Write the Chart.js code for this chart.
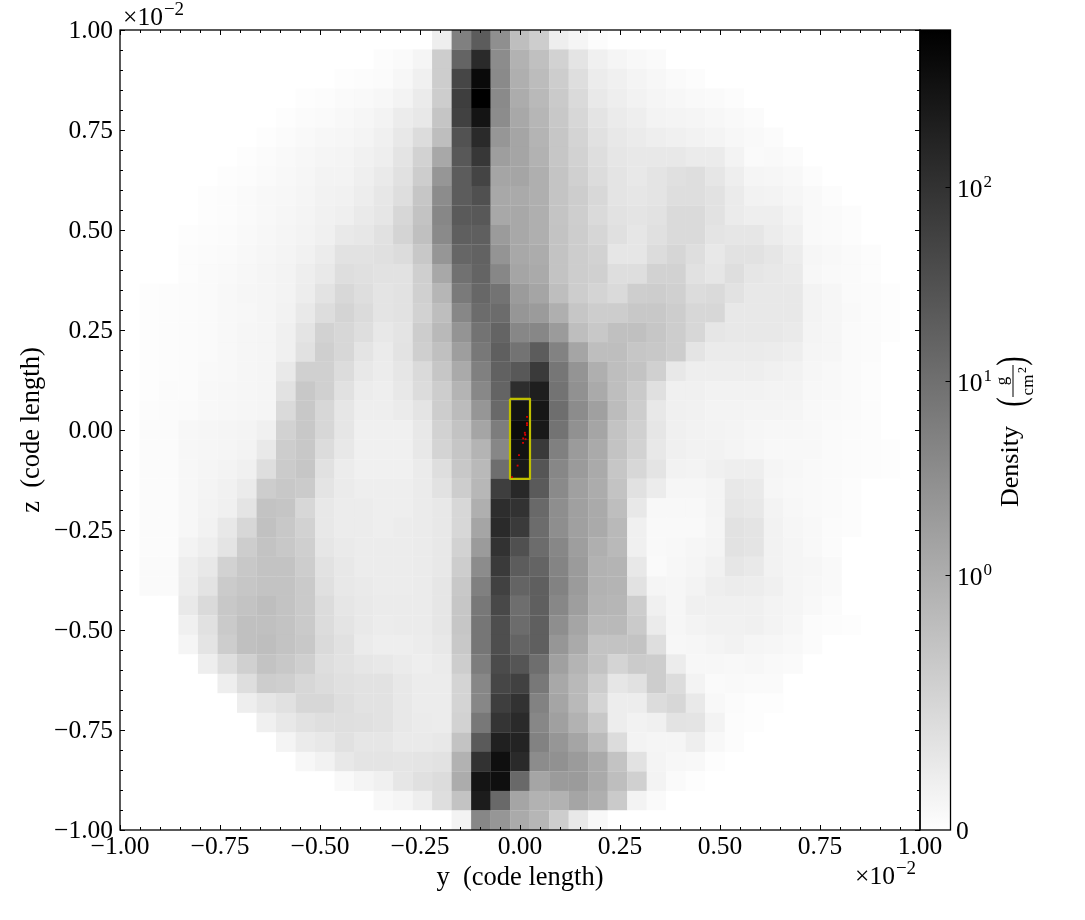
<!DOCTYPE html>
<html>
<head>
<meta charset="utf-8">
<title>Density projection</title>
<script src="https://cdn.jsdelivr.net/npm/chart.js@4"></script>
<style>
    html, body { margin: 0; padding: 0; background: #fff; }
    canvas { display: block; }
</style>
</head>
<body>
<canvas id="chart" width="1085" height="920"></canvas>
<script>
// Axis ticks, in units of 10^-2 code length
const majorTicks = [-1, -0.75, -0.5, -0.25, 0, 0.25, 0.5, 0.75, 1];
const minorTicks = [-0.95, -0.9, -0.85, -0.8, -0.7, -0.65, -0.6, -0.55, -0.45, -0.4, -0.35, -0.3, -0.2, -0.15, -0.1, -0.05,
    0.05, 0.1, 0.15, 0.2, 0.3, 0.35, 0.4, 0.45, 0.55, 0.6, 0.65, 0.7, 0.8, 0.85, 0.9, 0.95];

// Colorbar labels and where they sit along the bar (0 bottom, 1 top)
const colorbarLabels = ['0', '0', '1', '2'];
const colorbarPositions = [0, 0.319, 0.561, 0.804];

// Colormap index of each cell, 0 = white, 255 = black. Rows run top to bottom
const densityRows = [
    [0,0,0,0,0,0,0,0,0,0,0,0,0,0,0,0,17,127,163,112,65,50,17,10,3,0,0,0,0,0,0,0,0,0,0,0,0,0,0,0,0],
    [0,0,0,0,0,0,0,0,0,0,0,0,0,3,5,10,50,155,213,115,77,63,45,27,15,10,7,5,0,0,0,0,0,0,0,0,0,0,0,0,0],
    [0,0,0,0,0,0,0,0,0,0,0,2,3,4,8,15,50,185,245,117,80,67,50,33,19,15,11,8,5,3,0,0,0,0,0,0,0,0,0,0,0],
    [0,0,0,0,0,0,0,0,0,2,3,5,6,8,12,20,50,193,255,117,83,70,53,37,22,17,13,10,8,6,5,3,0,0,0,0,0,0,0,0,0],
    [0,0,0,0,0,0,0,0,2,4,5,7,9,12,19,23,58,190,235,115,87,73,55,40,27,20,17,12,11,10,8,6,4,0,0,0,0,0,0,0,0],
    [0,0,0,0,0,0,0,2,4,6,8,9,11,15,23,35,65,173,213,105,90,75,57,43,30,23,20,17,15,13,11,8,6,4,0,0,0,0,0,0,0],
    [0,0,0,0,0,0,2,4,6,8,10,11,14,17,27,45,87,167,200,97,90,77,57,45,33,25,23,23,23,20,20,12,5,6,4,0,0,0,0,0,0],
    [0,0,0,0,0,2,3,5,7,9,12,12,16,21,30,50,105,163,187,90,90,80,59,47,35,27,23,27,31,33,25,17,10,9,7,3,0,0,0,0,0],
    [0,0,0,0,2,3,5,7,8,10,13,14,18,24,33,57,115,163,175,87,85,80,59,50,39,27,25,27,33,33,29,20,13,12,9,6,3,0,0,0,0],
    [0,0,0,0,2,3,5,7,9,11,14,16,21,25,40,60,120,165,167,87,87,80,59,49,37,29,27,29,37,37,29,20,17,17,12,6,5,3,0,0,0],
    [0,0,0,2,3,4,6,8,10,12,15,22,24,30,43,63,117,160,160,100,87,80,60,50,41,31,25,31,37,37,27,25,25,19,15,6,5,3,0,0,0],
    [0,0,0,3,4,5,7,9,11,14,19,29,29,31,35,55,105,153,157,107,87,83,60,50,45,25,25,35,41,33,23,29,29,25,19,9,7,5,3,0,0],
    [0,0,0,3,5,6,8,10,12,17,22,33,31,29,29,48,87,142,155,120,90,85,60,50,47,33,33,45,45,30,25,33,25,23,21,8,6,5,3,0,0],
    [0,2,3,4,5,7,9,10,12,18,28,39,33,27,29,47,73,133,152,140,100,90,65,50,43,37,49,50,47,35,37,29,23,23,23,12,9,5,4,2,0],
    [0,2,3,4,5,7,8,10,13,22,34,43,36,27,29,45,65,120,147,147,105,100,80,57,50,50,55,55,50,40,40,23,23,23,23,12,9,6,4,2,0],
    [0,2,3,4,5,7,9,10,15,27,45,40,33,23,27,50,70,107,140,155,120,120,100,65,55,63,63,57,50,40,25,23,23,23,21,11,9,5,4,2,0],
    [0,2,3,4,5,7,9,10,15,30,48,40,27,20,28,48,63,97,135,160,140,163,125,90,65,65,57,55,50,27,20,20,20,19,17,10,9,5,4,0,0],
    [0,2,3,4,6,7,9,10,22,47,47,35,23,19,25,37,57,85,127,158,167,197,137,107,80,65,60,47,23,17,17,17,17,15,13,9,7,5,3,0,0],
    [0,2,4,4,7,8,9,10,29,55,47,30,19,17,23,35,50,75,119,155,210,225,140,110,85,65,53,31,15,15,13,13,13,12,12,8,7,5,3,0,0],
    [0,3,4,5,7,8,9,10,37,55,40,25,17,17,20,27,50,67,105,150,235,233,145,115,95,67,50,23,15,14,12,12,11,11,10,7,6,5,3,0,0],
    [0,4,4,8,9,10,11,15,45,55,40,25,15,15,15,23,45,60,90,130,243,230,140,110,90,60,47,25,15,13,12,11,9,8,8,7,5,4,3,0,0],
    [0,4,4,8,9,10,12,22,50,55,35,23,15,15,15,23,43,57,75,120,237,197,127,100,85,60,45,23,15,13,13,11,9,7,7,7,5,4,3,2,0],
    [0,4,4,8,10,12,15,33,52,57,30,19,15,15,15,20,33,55,70,145,230,170,120,100,85,57,40,27,13,12,15,17,17,10,8,6,5,4,3,2,0],
    [0,4,4,8,11,14,20,50,55,52,27,20,17,17,17,20,29,50,72,193,215,165,117,95,83,60,30,19,9,9,11,23,21,9,7,6,5,3,0,0,0],
    [0,4,4,8,12,15,27,60,58,40,23,19,19,17,17,20,23,40,80,210,205,150,113,95,85,65,23,7,7,7,11,25,23,12,8,6,5,3,0,0,0],
    [0,4,4,8,13,23,40,62,55,45,23,19,19,17,19,20,23,40,90,213,197,147,113,95,85,70,15,6,6,6,10,29,27,13,9,7,4,3,0,0,0],
    [0,4,4,12,17,27,50,60,55,48,25,21,19,19,19,20,23,45,100,205,175,147,120,97,80,70,15,6,7,9,11,29,27,13,10,7,4,0,0,0,0],
    [0,5,5,17,23,45,55,60,60,50,29,23,19,19,19,20,23,50,115,197,163,155,123,100,77,75,23,5,8,10,14,25,22,13,10,9,6,0,0,0,0],
    [0,5,5,18,28,52,57,60,60,53,31,23,21,19,19,20,25,55,127,190,155,160,125,100,77,75,29,10,9,12,17,19,18,15,10,8,6,0,0,0,0],
    [0,0,0,22,37,55,60,65,60,53,35,25,22,20,20,20,25,57,135,183,145,160,120,97,75,73,50,15,9,15,15,15,15,12,10,7,4,0,0,0,0],
    [0,0,0,15,30,53,63,63,60,53,35,27,22,19,20,20,25,57,137,177,147,160,113,90,70,70,53,20,9,12,14,14,15,12,9,4,3,2,0,0,0],
    [0,0,0,10,27,50,63,65,60,55,37,30,20,17,17,19,23,55,137,177,155,160,105,85,60,60,60,33,8,9,11,13,10,9,7,4,0,0,0,0,0],
    [0,0,0,0,17,33,47,60,55,48,33,29,25,23,20,17,20,50,130,180,170,145,95,75,60,43,52,50,19,8,8,7,8,6,5,0,0,0,0,0,0],
    [0,0,0,0,0,17,33,50,48,40,35,31,29,29,23,19,19,43,120,185,190,135,87,70,50,25,30,50,35,12,5,6,5,5,0,0,0,0,0,0,0],
    [0,0,0,0,0,0,17,25,30,40,40,33,29,29,23,19,19,43,120,193,205,125,90,70,43,18,18,35,40,22,7,4,2,2,0,0,0,0,0,0,0],
    [0,0,0,0,0,0,0,15,23,29,32,32,31,29,23,20,19,45,135,203,213,120,95,77,55,18,13,15,28,27,12,3,2,0,0,0,0,0,0,0,0],
    [0,0,0,0,0,0,0,0,11,20,23,30,25,25,21,21,23,60,165,223,220,125,105,90,68,35,12,10,10,17,7,3,0,0,0,0,0,0,0,0,0],
    [0,0,0,0,0,0,0,0,0,8,13,23,27,27,26,27,29,77,205,240,213,115,110,100,85,60,29,11,8,7,2,0,0,0,0,0,0,0,0,0,0],
    [0,0,0,0,0,0,0,0,0,0,0,6,11,15,25,31,35,83,235,240,150,90,100,100,85,65,47,12,5,2,0,0,0,0,0,0,0,0,0,0,0],
    [0,0,0,0,0,0,0,0,0,0,0,0,0,7,10,17,33,60,227,150,90,77,77,90,80,53,12,5,0,0,0,0,0,0,0,0,0,0,0,0,0],
    [0,0,0,0,0,0,0,0,0,0,0,0,0,0,0,0,0,12,120,105,85,73,50,23,7,0,0,0,0,0,0,0,0,0,0,0,0,0,0,0,0]
];

// Yellow outline of the sink region
const boxY = [-0.025, 0.025, 0.025, -0.025, -0.025];
const boxZ = [0.078, 0.078, -0.122, -0.122, 0.078];

// Red particles inside the box
const particleY = [0.0175, 0.0175, 0.0175, 0.012, 0.013, 0.008, 0.014, 0.0075, -0.0025, -0.006, -0.02];
const particleZ = [0.033, 0.017, 0.012, -0.007, -0.012, -0.021, -0.023, -0.032, -0.063, -0.089, -0.118];

const serif = '"Liberation Serif", serif';
const gridSize = densityRows.length;
const cellSize = 2 / gridSize;

// Turn the rows into one point per cell
const cells = [];
densityRows.forEach((row, r) => {
    row.forEach((level, c) => {
        cells.push({ x: -1 + (c + 0.5) * cellSize, y: 1 - (r + 0.5) * cellSize, level: level });
    });
});

function grey(level) {
    const g = 255 - level;
    return 'rgb(' + g + ',' + g + ',' + g + ')';
}

function tickLabel(value) {
    return value.toFixed(2).replace('-', '\u2212');
}

// Text with a raised exponent, drawn at the given baseline
function drawPower(ctx, text, exponent, x, y, expSize) {
    ctx.textAlign = 'left';
    ctx.textBaseline = 'alphabetic';
    ctx.font = '25.5px ' + serif;
    ctx.fillText(text, x, y);
    const w = ctx.measureText(text).width;
    ctx.font = expSize + 'px ' + serif;
    ctx.fillText(exponent, x + w + 1, y - 10);
}

// Parenthesis stretched along its height so the stroke stays thin
function drawParen(ctx, text, x, y) {
    ctx.save();
    ctx.translate(x, y);
    ctx.scale(1, 1.4);
    ctx.font = '28px ' + serif;
    ctx.textAlign = 'center';
    ctx.fillText(text, 0, 0);
    ctx.restore();
}

// Inward ticks, frame, colorbar and the bits of math text the scales can't do
const framePlugin = {
    id: 'frame',
    afterDraw(chart) {
        const ctx = chart.ctx;
        const area = chart.chartArea;
        const xs = chart.scales.x;
        const ys = chart.scales.y;
        const cb = chart.scales.cb;

        ctx.save();
        ctx.strokeStyle = '#000';
        ctx.lineWidth = 1;

        function ticks(list, len) {
            ctx.beginPath();
            list.forEach(v => {
                const px = Math.round(xs.getPixelForValue(v)) + 0.5;
                const py = Math.round(ys.getPixelForValue(v)) + 0.5;
                ctx.moveTo(px, area.bottom); ctx.lineTo(px, area.bottom - len);
                ctx.moveTo(px, area.top); ctx.lineTo(px, area.top + len);
                ctx.moveTo(area.left, py); ctx.lineTo(area.left + len, py);
                ctx.moveTo(area.right, py); ctx.lineTo(area.right - len, py);
            });
            ctx.stroke();
        }
        ticks(majorTicks, 5);
        ticks(minorTicks, 3);

        // Colorbar
        const barLeft = area.right;
        const barRight = area.right + 30.5;
        const grad = ctx.createLinearGradient(0, area.top, 0, area.bottom);
        grad.addColorStop(0, '#000');
        grad.addColorStop(1, '#fefefe');
        ctx.fillStyle = grad;
        ctx.fillRect(barLeft, area.top, barRight - barLeft, area.bottom - area.top);

        ctx.lineWidth = 1.3;
        ctx.strokeRect(area.left, area.top, area.right - area.left, area.bottom - area.top);
        ctx.strokeRect(barLeft, area.top, barRight - barLeft, area.bottom - area.top);

        ctx.fillStyle = '#000';
        ctx.lineWidth = 1;
        colorbarPositions.forEach((pos, i) => {
            const py = Math.round(cb.getPixelForValue(pos)) + 0.5;
            if (i === 0) {
                ctx.textAlign = 'left';
                ctx.textBaseline = 'alphabetic';
                ctx.font = '25.5px ' + serif;
                ctx.fillText(colorbarLabels[i], 956, py + 8);
                return;
            }
            ctx.beginPath();
            ctx.moveTo(barRight, py);
            ctx.lineTo(barRight - 5, py);
            ctx.stroke();
            drawPower(ctx, '10', colorbarLabels[i], 957, py + 9, 17);
        });

        // Offset text of both axes
        drawPower(ctx, '\u00d710', '\u22122', 123, 25, 19);
        drawPower(ctx, '\u00d710', '\u22122', 855, 884, 19);

        // Colorbar title, rotated
        ctx.translate(1011, 430);
        ctx.rotate(-Math.PI / 2);
        ctx.textBaseline = 'alphabetic';
        ctx.textAlign = 'left';
        ctx.font = '26px ' + serif;
        ctx.fillText('Density', -77, 7);
        drawParen(ctx, '(', 28, 13);
        drawParen(ctx, ')', 69, 13);
        ctx.textAlign = 'center';
        ctx.font = '17px ' + serif;
        ctx.fillText('g', 49, -4);
        ctx.fillRect(33, 1.5, 32, 1);
        ctx.fillText('cm', 45, 22);
        ctx.font = '12px ' + serif;
        ctx.fillText('2', 60, 15);
        ctx.restore();
    }
};

new Chart(document.getElementById('chart'), {
    type: 'scatter',
    data: {
        datasets: [
            {
                label: 'particles',
                order: 0,
                data: particleY.map((y, i) => ({ x: y, y: particleZ[i] })),
                pointStyle: 'rect',
                pointRadius: 1.3,
                pointBorderWidth: 0,
                pointBackgroundColor: '#e00000'
            },
            {
                label: 'box',
                order: 1,
                data: boxY.map((y, i) => ({ x: y, y: boxZ[i] })),
                showLine: true,
                borderColor: '#bfbf00',
                borderWidth: 2.2,
                borderJoinStyle: 'round',
                pointRadius: 0
            },
            {
                label: 'density',
                order: 2,
                clip: 0,
                data: cells,
                pointStyle: 'rect',
                pointBorderWidth: 0,
                // slightly oversized so no seams show between the cells
                pointRadius: ctx => ctx.chart.scales.x.width / gridSize * Math.SQRT1_2 + 0.15,
                pointBackgroundColor: ctx => grey(ctx.raw.level)
            }
        ]
    },
    options: {
        responsive: false,
        animation: false,
        events: [],
        layout: { padding: { top: 30, left: 0, right: 0, bottom: 0 } },
        plugins: {
            legend: { display: false },
            tooltip: { enabled: false }
        },
        scales: {
            x: {
                type: 'linear',
                min: -1,
                max: 1,
                afterBuildTicks: scale => { scale.ticks = majorTicks.map(v => ({ value: v })); },
                afterFit: scale => {
                    scale.height = 90;
                    scale.paddingLeft = 0;
                    scale.paddingRight = 0;
                },
                grid: { display: false, drawTicks: false },
                border: { display: false },
                ticks: {
                    color: '#000',
                    padding: 2,
                    maxRotation: 0,
                    autoSkip: false,
                    font: { family: serif, size: 25.5 },
                    callback: tickLabel
                },
                title: {
                    display: true,
                    text: 'y  (code length)',
                    color: '#000',
                    padding: { top: 0, bottom: 26 },
                    font: { family: serif, size: 26.5 }
                }
            },
            y: {
                type: 'linear',
                min: -1,
                max: 1,
                afterBuildTicks: scale => { scale.ticks = majorTicks.map(v => ({ value: v })); },
                afterFit: scale => {
                    scale.width = 120;
                    scale.paddingTop = 0;
                    scale.paddingBottom = 0;
                },
                grid: { display: false, drawTicks: false },
                border: { display: false },
                ticks: {
                    color: '#000',
                    padding: 7,
                    labelOffset: 1.5,
                    autoSkip: false,
                    font: { family: serif, size: 25.5 },
                    callback: tickLabel
                },
                title: {
                    display: true,
                    text: 'z  (code length)',
                    color: '#000',
                    padding: { top: 16, bottom: 0 },
                    font: { family: serif, size: 26.5 }
                }
            },
            cb: {
                type: 'linear',
                position: 'right',
                min: 0,
                max: 1,
                afterFit: scale => { scale.width = 165; },
                grid: { display: false, drawTicks: false },
                border: { display: false },
                ticks: { display: false }
            }
        }
    },
    plugins: [framePlugin]
});
</script>
</body>
</html>
